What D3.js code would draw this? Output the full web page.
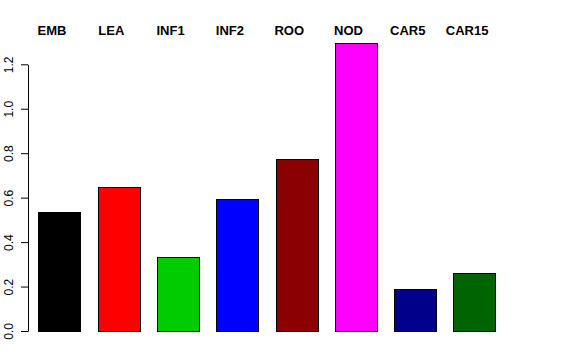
<!DOCTYPE html>
<html>
<head>
<meta charset="utf-8">
<script src="https://cdn.jsdelivr.net/npm/d3@7"></script>
<style>
  body { margin: 0; background: #fff; }
  svg { display: block; font-family: "Liberation Sans", Arial, sans-serif; }
</style>
</head>
<body>
<div id="chart"></div>
<script>
var tissues = ["EMB", "LEA", "INF1", "INF2", "ROO", "NOD", "CAR5", "CAR15"];
var values = [0.537, 0.646, 0.334, 0.594, 0.773, 1.294, 0.188, 0.262];
var barColors = ["#000000", "#ff0000", "#00cd00", "#0000ff", "#8b0000", "#ff00ff", "#00008b", "#006400"];
var yTicks = [0, 0.2, 0.4, 0.6, 0.8, 1.0, 1.2];

var width = 576, height = 360;

var svg = d3.select("#chart").append("svg")
    .attr("width", width)
    .attr("height", height);

var x = d3.scaleBand()
    .domain(tissues)
    .range([38.3, 495.8])
    .paddingInner(0.285)
    .paddingOuter(0);

var y = d3.scaleLinear()
    .domain([0, 1.2])
    .range([331, 64.3]);

// bars
svg.append("g")
    .selectAll("rect")
    .data(tissues)
    .join("rect")
    .attr("x", function(d) { return Math.round(x(d)) + 0.5; })
    .attr("y", function(d, i) { return Math.round(y(values[i])) + 0.5; })
    .attr("width", Math.round(x.bandwidth()))
    .attr("height", function(d, i) { return Math.round(y(0)) - Math.round(y(values[i])); })
    .attr("fill", function(d, i) { return barColors[i]; })
    .attr("stroke", "#000")
    .attr("stroke-width", 1);

// y axis
var yAxis = d3.axisLeft(y)
    .tickValues(yTicks)
    .tickFormat(d3.format(".1f"))
    .tickSize(7)
    .tickSizeOuter(0);

var ga = svg.append("g")
    .attr("transform", "translate(28,0)")
    .call(yAxis);

ga.select(".domain").attr("stroke", "#000");
ga.selectAll(".tick line").attr("stroke", "#000");
ga.selectAll(".tick text")
    .attr("transform", "rotate(-90)")
    .attr("x", 0)
    .attr("y", -15)
    .attr("dy", 0)
    .attr("text-anchor", "middle")
    .attr("fill", "#000")
    .style("font-size", "12px")
    .style("font-family", "Liberation Sans, Arial, sans-serif");

// labels on top
svg.append("g")
    .selectAll("text")
    .data(tissues)
    .join("text")
    .attr("x", function(d) { return x(d) + x.bandwidth() / 2 - 7.5; })
    .attr("y", 35)
    .attr("text-anchor", "middle")
    .style("font-size", "13px")
    .style("font-weight", "bold")
    .attr("fill", "#000")
    .text(function(d) { return d; });
</script>
</body>
</html>
